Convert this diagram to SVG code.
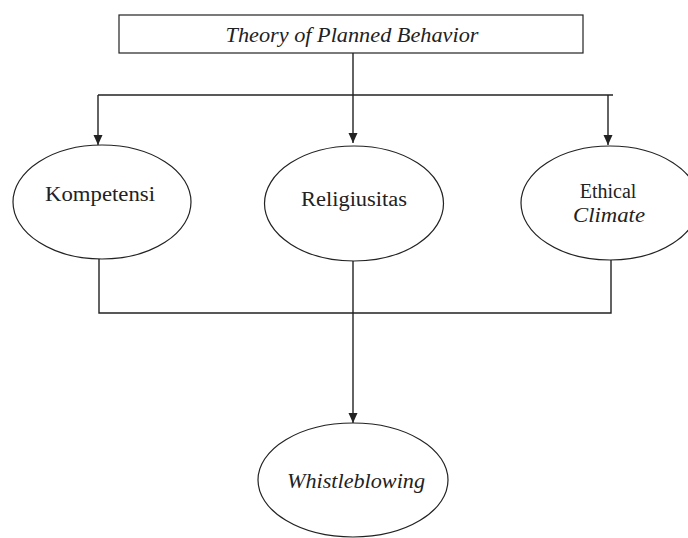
<svg xmlns="http://www.w3.org/2000/svg" width="688" height="538" viewBox="0 0 688 538">
<style>
.ln{fill:none;stroke:#222;stroke-width:1.4}
.nd{fill:#fff;stroke:#222;stroke-width:1.2}
.t{font-family:"Liberation Serif","Times New Roman",serif;font-size:20px;fill:#222;text-anchor:middle}
.i{font-style:italic}
</style>
<defs>
<marker id="ah" viewBox="0 0 10 10" refX="10" refY="5" markerWidth="10" markerHeight="10" markerUnits="userSpaceOnUse" orient="auto">
<path d="M0,0.5 L10,5 L0,9.5 Z" fill="#222"/>
</marker>
</defs>
<g id="connectors">
<path class="ln" d="M353,53 V143" marker-end="url(#ah)"/>
<path class="ln" d="M98,95 H613"/>
<path class="ln" d="M98,95 V145" marker-end="url(#ah)"/>
<path class="ln" d="M608,95 V145" marker-end="url(#ah)"/>
<path class="ln" d="M99,259 V313 H611 V260"/>
<path class="ln" d="M353,261 V423" marker-end="url(#ah)"/>
</g>
<g id="tpb">
<rect class="nd" x="119" y="15" width="464" height="38"/>
<text class="t i" x="352" y="42" textLength="253" lengthAdjust="spacingAndGlyphs">Theory of Planned Behavior</text>
</g>
<g id="kompetensi">
<ellipse class="nd" cx="102" cy="202" rx="89" ry="57"/>
<text class="t" x="100" y="201" textLength="110" lengthAdjust="spacingAndGlyphs">Kompetensi</text>
</g>
<g id="religiusitas">
<ellipse class="nd" cx="354" cy="203.5" rx="89.5" ry="57.5"/>
<text class="t" x="354" y="206" textLength="106" lengthAdjust="spacingAndGlyphs">Religiusitas</text>
</g>
<g id="ethical-climate">
<ellipse class="nd" cx="610" cy="203" rx="89" ry="57"/>
<text class="t" x="608" y="198">Ethical</text>
<text class="t i" x="609" y="222" textLength="72" lengthAdjust="spacingAndGlyphs">Climate</text>
</g>
<g id="whistleblowing">
<ellipse class="nd" cx="353" cy="480" rx="95" ry="57"/>
<text class="t i" x="356" y="488" textLength="138" lengthAdjust="spacingAndGlyphs">Whistleblowing</text>
</g>
</svg>
